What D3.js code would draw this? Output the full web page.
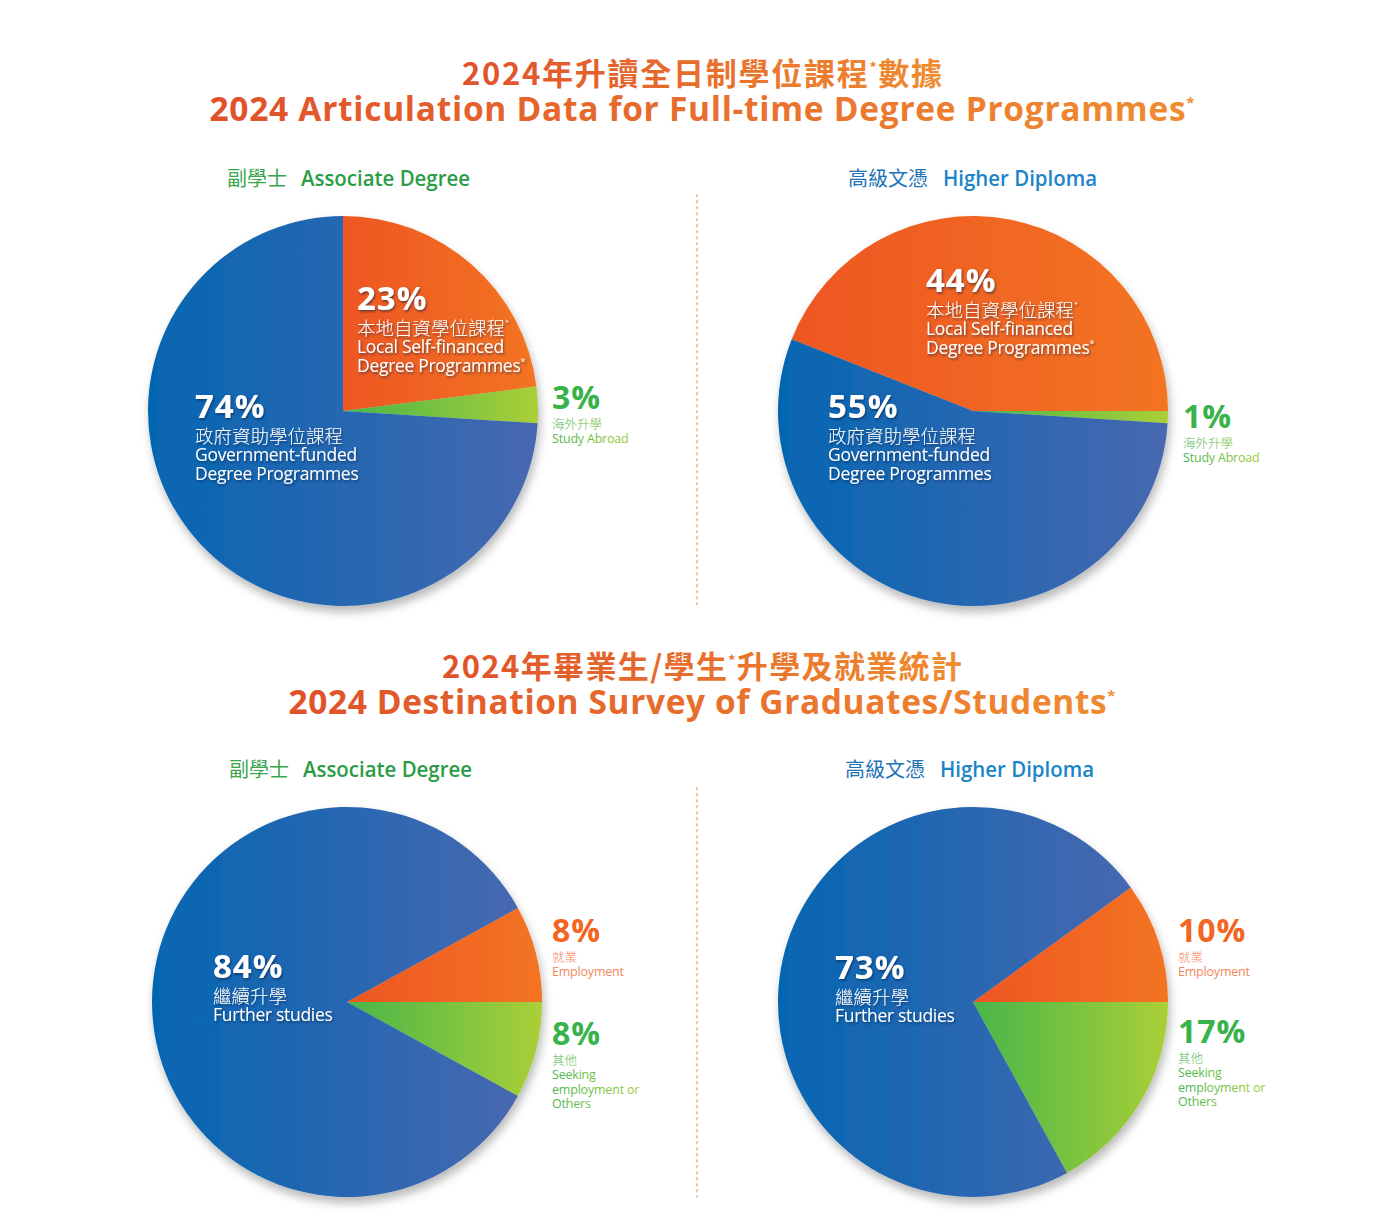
<!DOCTYPE html>
<html><head><meta charset="utf-8">
<script src="https://cdn.jsdelivr.net/npm/d3@7"></script>
<style>body{margin:0;background:#fff}</style>
</head><body>
<svg id="c" width="1400" height="1224" xmlns="http://www.w3.org/2000/svg"></svg>
<script>
// ---------- data ----------
const sectionTitlesZh = ["2024年升讀全日制學位課程*數據", "2024年畢業生/學生*升學及就業統計"];
const sectionTitlesEn = ["2024 Articulation Data for Full-time Degree Programmes*", "2024 Destination Survey of Graduates/Students*"];
const programmesZh = ["副學士", "高級文憑"];
const programmesEn = ["Associate Degree", "Higher Diploma"];
const articulationZh = ["本地自資學位課程*", "海外升學", "政府資助學位課程"];
const articulationEn = [["Local Self-financed", "Degree Programmes*"], ["Study Abroad"], ["Government-funded", "Degree Programmes"]];
const articulationAD = [23, 3, 74];
const articulationHD = [44, 1, 55];
const destinationZh = ["就業", "其他", "繼續升學"];
const destinationEn = [["Employment"], ["Seeking", "employment or", "Others"], ["Further studies"]];
const destinationAD = [8, 8, 84];
const destinationHD = [10, 17, 73];

// ---------- layout / style ----------
const svg = d3.select("#c");
const defs = svg.append("defs");
const CJK = "'Noto Sans CJK TC','Noto Sans CJK SC',sans-serif";
const LAT = "'Open Sans','Noto Sans',sans-serif";
const R = 195;

function lg(id, c1, c2, user) {
  const g = defs.append("linearGradient").attr("id", id).attr("x1", user ? user[0] : 0).attr("x2", user ? user[1] : 1).attr("y1", 0).attr("y2", 0);
  if (user) g.attr("gradientUnits", "userSpaceOnUse");
  g.append("stop").attr("offset", 0).attr("stop-color", c1);
  g.append("stop").attr("offset", 1).attr("stop-color", c2);
}
lg("gOrange", "#ee5623", "#f37421");
lg("gGreen", "#48b649", "#aacf37");
lg("gBlue", "#0566b2", "#4767b0");
lg("gTitle", "#e0512a", "#f08c30");
const sliceFill = ["url(#gOrange)", "url(#gGreen)", "url(#gBlue)"];

const fs = defs.append("filter").attr("id", "pieShadow").attr("x", -0.2).attr("y", -0.2).attr("width", 1.4).attr("height", 1.4);
fs.append("feDropShadow").attr("dx", 2).attr("dy", 6).attr("stdDeviation", 5).attr("flood-color", "#000").attr("flood-opacity", 0.28);
const ft = defs.append("filter").attr("id", "txtShadow").attr("x", -0.1).attr("y", -0.3).attr("width", 1.2).attr("height", 1.6);
ft.append("feDropShadow").attr("dx", 1).attr("dy", 1.5).attr("stdDeviation", 1.2).attr("flood-color", "#00204a").attr("flood-opacity", 0.6);

// rich text: "*" rendered as a small superscript
function rich(textSel, str, supSize, lift) {
  const parts = str.split("*");
  let pendingDy = 0;
  parts.forEach((p, i) => {
    if (p) {
      const t = textSel.append("tspan").text(p);
      if (pendingDy) { t.attr("dy", pendingDy); pendingDy = 0; }
    }
    if (i < parts.length - 1) {
      textSel.append("tspan").attr("font-size", supSize).attr("dy", -lift).text("*");
      pendingDy = lift;
    }
  });
  return textSel;
}

// ---------- titles ----------
const titleRows = [
  {zhY: 85, enY: 121, zhW: 480, enW: 985},
  {zhY: 678, enY: 714, zhW: 520, enW: 827}
];
titleRows.forEach((r, i) => {
  const tz = svg.append("text").attr("x", 702).attr("y", r.zhY).attr("text-anchor", "middle")
    .attr("font-family", CJK).attr("font-weight", 700).attr("font-size", 31).attr("fill", "url(#gTitle)")
    .attr("textLength", r.zhW).attr("lengthAdjust", "spacing");
  rich(tz, sectionTitlesZh[i], 14, 12);
  const te = svg.append("text").attr("x", 702).attr("y", r.enY).attr("text-anchor", "middle")
    .attr("font-family", LAT).attr("font-weight", 700).attr("font-size", 33.5).attr("fill", "url(#gTitle)")
    .attr("textLength", r.enW).attr("lengthAdjust", "spacing");
  rich(te, sectionTitlesEn[i], 15, 13);
});

// ---------- sub headings ----------
const subHeads = [
  {x: 227, y: 186, ex: 301, ew: 169, p: 0},
  {x: 848, y: 186, ex: 943, ew: 154, p: 1},
  {x: 229, y: 777, ex: 303, ew: 169, p: 0},
  {x: 845, y: 777, ex: 940, ew: 154, p: 1}
];
const subColZh = ["#3aa54f", "#1f74b8"];
const subColEn = ["#2b9b45", "#1a85c8"];
subHeads.forEach(s => {
  svg.append("text").attr("x", s.x).attr("y", s.y).attr("font-family", CJK).attr("font-size", 20)
    .attr("fill", subColZh[s.p]).text(programmesZh[s.p]);
  svg.append("text").attr("x", s.ex).attr("y", s.y).attr("font-family", LAT).attr("font-weight", 600)
    .attr("font-size", 21).attr("fill", subColEn[s.p]).attr("textLength", s.ew).attr("lengthAdjust", "spacingAndGlyphs")
    .text(programmesEn[s.p]);
});

// ---------- dotted separators ----------
[[195, 605], [788, 1197]].forEach(([a, b]) => {
  svg.append("line").attr("x1", 697).attr("x2", 697).attr("y1", a).attr("y2", b)
    .attr("stroke", "#f3c49c").attr("stroke-width", 2).attr("stroke-dasharray", "1.5 4.5").attr("stroke-linecap", "round");
});

// ---------- pies ----------
const charts = [
  {values: articulationAD, zh: articulationZh, en: articulationEn, cx: 343, cy: 411, anchor: "start",
   labels: [{kind: "in", dx: 14, dy: -101}, {kind: "out", dx: 209, dy: -2}, {kind: "in", dx: -148, dy: 7}]},
  {values: articulationHD, zh: articulationZh, en: articulationEn, cx: 973, cy: 411, anchor: "end",
   labels: [{kind: "in", dx: -47, dy: -119}, {kind: "out", dx: 210, dy: 17}, {kind: "in", dx: -145, dy: 7}]},
  {values: destinationAD, zh: destinationZh, en: destinationEn, cx: 347, cy: 1002, anchor: "end",
   labels: [{kind: "out", dx: 205, dy: -60}, {kind: "out", dx: 205, dy: 43}, {kind: "in", dx: -134, dy: -24}]},
  {values: destinationHD, zh: destinationZh, en: destinationEn, cx: 973, cy: 1002, anchor: "end",
   labels: [{kind: "out", dx: 205, dy: -60}, {kind: "out", dx: 205, dy: 41}, {kind: "in", dx: -138, dy: -23}]}
];

const arc = d3.arc().innerRadius(0).outerRadius(R);
const outPctCol = ["#f26522", "#38b24a"];
const outTxtCol = ["#f4875a", null];

charts.forEach((c, ci) => {
  const total = d3.sum(c.values);
  const s0 = c.anchor === "start" ? 0 : Math.PI / 2 - c.values[0] / total * 2 * Math.PI;
  const pie = d3.pie().sort(null).value(d => d).startAngle(s0).endAngle(s0 + 2 * Math.PI);
  const g = svg.append("g").attr("transform", `translate(${c.cx},${c.cy})`);
  g.append("g").attr("filter", "url(#pieShadow)")
    .selectAll("path").data(pie(c.values)).join("path")
    .attr("d", arc).attr("fill", (d, i) => sliceFill[i]);

  c.labels.forEach((L, i) => {
    const x = c.cx + L.dx, y = c.cy + L.dy;
    const lab = svg.append("g");
    if (L.kind === "in") {
      const lg2 = lab.attr("filter", "url(#txtShadow)").attr("fill", "#fff");
      lg2.append("text").attr("x", x).attr("y", y).attr("font-family", LAT).attr("font-weight", 700)
        .attr("font-size", 33).attr("letter-spacing", 1).text(c.values[i] + "%");
      rich(lg2.append("text").attr("x", x).attr("y", y + 25).attr("font-family", CJK).attr("font-weight", 300)
        .attr("font-size", 18.5), c.zh[i], 9, 8);
      c.en[i].forEach((line, k) => {
        rich(lg2.append("text").attr("x", x).attr("y", y + 43 + 19 * k).attr("font-family", LAT).attr("font-weight", 400)
          .attr("font-size", 17.5).attr("letter-spacing", -0.3), line, 9, 7);
      });
    } else {
      const isGreen = i === 1;
      let txtFill;
      if (isGreen) {
        const id = `gLab${ci}_${i}`;
        lg(id, "#4cb653", "#a9cf3a", [x, x + 95]);
        txtFill = `url(#${id})`;
      } else txtFill = outTxtCol[0];
      lab.append("text").attr("x", x).attr("y", y).attr("font-family", LAT).attr("font-weight", 700)
        .attr("font-size", 32).attr("letter-spacing", 1).attr("fill", outPctCol[isGreen ? 1 : 0]).text(c.values[i] + "%");
      lab.append("text").attr("x", x).attr("y", y + 20).attr("font-family", CJK).attr("font-weight", 300)
        .attr("font-size", 12.5).attr("fill", txtFill).text(c.zh[i]);
      c.en[i].forEach((line, k) => {
        lab.append("text").attr("x", x).attr("y", y + 34 + 14.5 * k).attr("font-family", LAT).attr("font-weight", 400)
          .attr("font-size", 12.5).attr("letter-spacing", -0.2).attr("fill", txtFill).text(line);
      });
    }
  });
});
</script>
</body></html>
